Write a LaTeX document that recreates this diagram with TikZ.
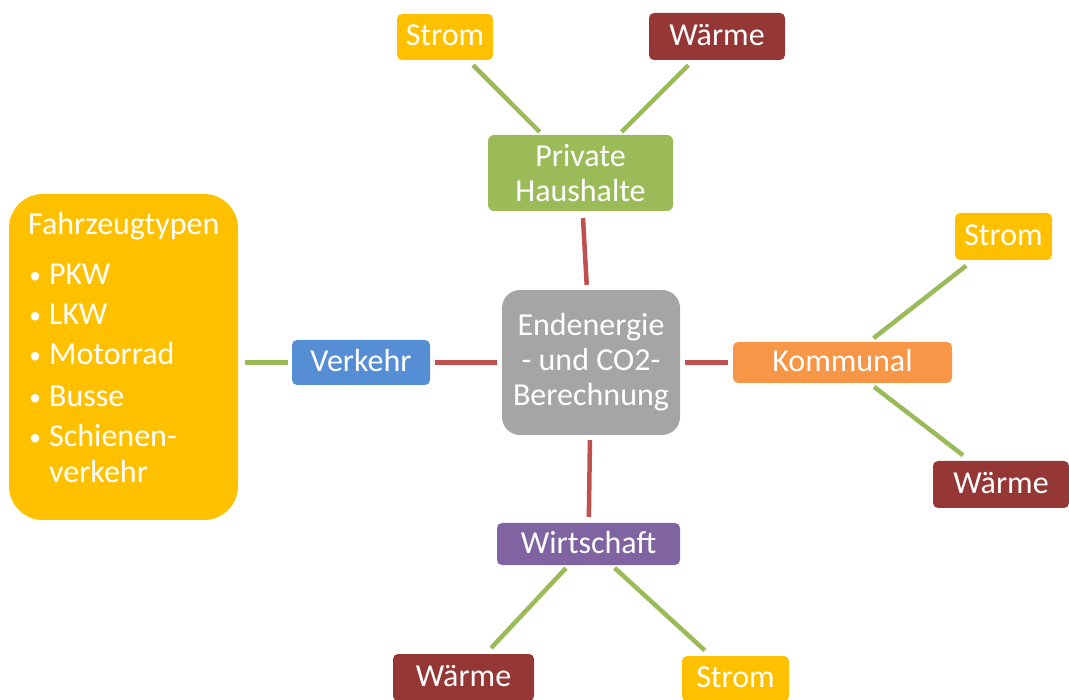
\documentclass[tikz,border=0pt]{standalone}
\usepackage{fontspec}
\setmainfont{Carlito}
\definecolor{cStrom}{HTML}{FFC000}
\definecolor{cWaerme}{HTML}{953735}
\definecolor{cPrivat}{HTML}{9BBB59}
\definecolor{cCenter}{HTML}{A5A5A5}
\definecolor{cVerkehr}{HTML}{558ED5}
\definecolor{cKommunal}{HTML}{F79646}
\definecolor{cWirtschaft}{HTML}{8064A2}
\definecolor{cRed}{HTML}{C0504D}
\definecolor{cGreen}{HTML}{9BBB59}
\newcommand{\listbullet}{\makebox[21pt][l]{\hspace{1pt}{\fontsize{24}{24}\selectfont\raisebox{1.5pt}{•}}}}
\begin{document}
\begin{tikzpicture}[x=1pt,y=-1pt,
  every node/.style={font=\fontsize{32}{35}\selectfont, text=white, inner sep=0pt},
  box/.style={rounded corners=5pt, text height=21pt, text depth=3pt},
  multibox/.style={align=center},
  mainlink/.style={draw=cRed, line width=4.5pt},
  sublink/.style={draw=cGreen, line width=4.5pt},
  listtext/.style={anchor=base west}
]
\useasboundingbox (0,0) rectangle (1069,700);

% central node
\node[multibox, fill=cCenter, rounded corners=18pt, minimum width=178pt, minimum height=145pt]
  (ce) at (591,362.5) {Endenergie\\- und CO2-\\Berechnung};

% sectors
\node[multibox, fill=cPrivat, rounded corners=6pt, minimum width=185pt, minimum height=76pt]
  (ph) at (580.5,173) {Private\\Haushalte};
\node[box, fill=cVerkehr, minimum width=138pt, minimum height=45pt] (vk) at (361,362.5) {Verkehr};
\node[box, fill=cKommunal, minimum width=219pt, minimum height=41pt] (ko) at (842.5,362.5) {Kommunal};
\node[box, fill=cWirtschaft, minimum width=183pt, minimum height=42pt] (wi) at (588.5,544) {Wirtschaft};

% energy carriers
\node[box, fill=cStrom, minimum width=96pt, minimum height=46pt] (sT) at (445,37) {Strom};
\node[box, fill=cWaerme, minimum width=136pt, minimum height=47pt] (wT) at (717,36.5) {Wärme};
\node[box, fill=cStrom, minimum width=97pt, minimum height=47pt] (sR) at (1003.5,236.5) {Strom};
\node[box, fill=cWaerme, minimum width=136pt, minimum height=47pt] (wR) at (1001,484.5) {Wärme};
\node[box, fill=cWaerme, minimum width=141pt, minimum height=47pt] (wB) at (463.5,677.5) {Wärme};
\node[box, fill=cStrom, minimum width=107pt, minimum height=45pt] (sB) at (735.5,678.5) {Strom};

% vehicle types list
\node[fill=cStrom, rounded corners=34pt, minimum width=229pt, minimum height=326pt] (fz) at (123.5,357) {};
\node[listtext] (fzT) at (28,235) {Fahrzeugtypen};
\node[listtext] (fz1) at (28,285) {\listbullet PKW};
\node[listtext] (fz2) at (28,325) {\listbullet LKW};
\node[listtext] (fz3) at (28,365) {\listbullet Motorrad};
\node[listtext] (fz4) at (28,407) {\listbullet Busse};
\node[listtext] (fz5) at (28,447) {\listbullet Schienen-};
\node[listtext] (fz6) at (49,483) {verkehr};

% links from the centre
\draw[mainlink, shorten <=7pt, shorten >=5pt] (ph) -- (ce);
\draw[mainlink, shorten <=5pt, shorten >=6pt] (ce) -- (wi);
\draw[mainlink, shorten <=5pt, shorten >=5pt] (vk) -- (ce);
\draw[mainlink, shorten <=5pt, shorten >=5pt] (ce) -- (ko);

% links to the energy carriers
\draw[sublink, shorten <=7pt, shorten >=4pt] (sT) -- (ph);
\draw[sublink, shorten <=7pt, shorten >=4pt] (wT) -- (ph);
\draw[sublink, shorten <=6pt, shorten >=9pt] (ko) -- (sR);
\draw[sublink, shorten <=6pt, shorten >=9pt] (ko) -- (wR);
\draw[sublink, shorten <=4pt, shorten >=8pt] (wi) -- (wB);
\draw[sublink, shorten <=4pt, shorten >=8pt] (wi) -- (sB);
\draw[sublink, shorten <=7pt, shorten >=4pt] (vk.west -| fz.east) -- (vk.west);
\end{tikzpicture}
\end{document}
